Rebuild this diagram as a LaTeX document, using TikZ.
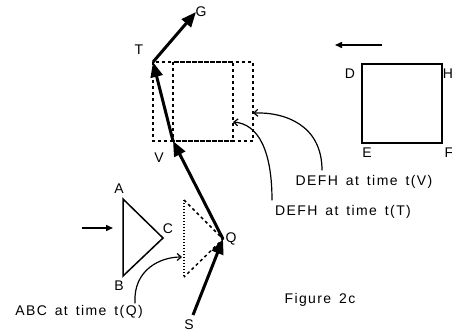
\documentclass[tikz,border=0pt]{standalone}
\usepackage{fontspec}
\setmainfont{Liberation Sans}[LetterSpace=10, WordSpace=1.5]
\usetikzlibrary{arrows.meta}
\begin{document}
\begin{tikzpicture}[x=1pt,y=-1pt,
  lbl/.style={inner sep=0pt, font=\fontsize{14}{16}\selectfont},
  route/.style={line width=3pt, -{Triangle[length=15pt,width=12pt]}},
  motion/.style={line width=1.5pt, -{Triangle[length=7pt,width=6pt]}},
  body/.style={line width=1.5pt, line join=miter},
  ghost/.style={line width=1.5pt, dash pattern=on 3pt off 3pt},
  ghostdot/.style={line width=1.5pt, dash pattern=on 1pt off 2pt},
  pointer/.style={line width=1.2pt, -{Straight Barb[length=4pt,width=7pt]}}
]
\useasboundingbox (0,0) rectangle (452,332);

% path points
\coordinate (S) at (193,315);
\coordinate (Q) at (223,239);
\coordinate (V) at (173,141);
\coordinate (T) at (153,62);
\coordinate (G) at (196,12);

% square DEFH and its two earlier positions
\draw[body] (362,64) rectangle (442,143);
\draw[ghost] (153,62) rectangle (233,141);
\draw[ghost] (173,62) rectangle (253,141);

% triangle ABC and its later position
\coordinate (A) at (123,199);
\coordinate (B) at (123,276);
\coordinate (C) at (163,238);
\draw[body] (A) -- (C) -- (B) -- cycle;
\coordinate (A2) at (184,200);
\coordinate (B2) at (184,277);
\draw[ghostdot] (A2) -- (B2);
\draw[ghost] (A2) -- (Q) -- (B2);

% the moving point
\draw[route] (S) -- (Q);
\draw[route] (Q) -- (V);
\draw[route] (V) -- (T);
\draw[route] (T) -- (G);

% directions of motion
\coordinate (m1) at (382,45);
\coordinate (m2) at (335,45);
\draw[motion] (m1) -- (m2);
\coordinate (m3) at (82,228);
\coordinate (m4) at (113,228);
\draw[motion] (m3) -- (m4);

% vertex labels
\node[lbl] (lT) at (139,50) {T};
\node[lbl] (lG) at (201,12) {G};
\node[lbl] (lV) at (159,158) {V};
\node[lbl] (lA) at (119,189) {A};
\node[lbl] (lB) at (119,286) {B};
\node[lbl] (lC) at (168,229) {C};
\node[lbl] (lQ) at (231,239) {Q};
\node[lbl] (lS) at (189,325) {S};
\node[lbl] (lD) at (350,74) {D};
\node[lbl] (lH) at (448,74) {H};
\node[lbl] (lE) at (367,153) {E};
\node[lbl] (lF) at (449,153) {F};

% captions
\node[lbl] (capV) at (364,182) {DEFH at time t(V)};
\node[lbl] (capT) at (343,212) {DEFH at time t(T)};
\node[lbl] (capQ) at (79,312) {ABC at time t(Q)};
\node[lbl] (fig) at (320,300) {Figure 2c};

% pointers from captions
\coordinate (pV) at (253,113);
\coordinate (pT) at (233,122);
\coordinate (pQ) at (182,257);
\draw[pointer] (capV.north -| 322,0) ++(0,-5) .. controls (322,125) and (285,112) .. (pV);
\draw[pointer] (capT.north -| 272,0) ++(0,-5) .. controls (272,150) and (258,124) .. (pT);
\draw[pointer] (capQ.north -| 135,0) ++(0,-2) .. controls (133,270) and (160,257) .. (pQ);
\end{tikzpicture}
\end{document}
